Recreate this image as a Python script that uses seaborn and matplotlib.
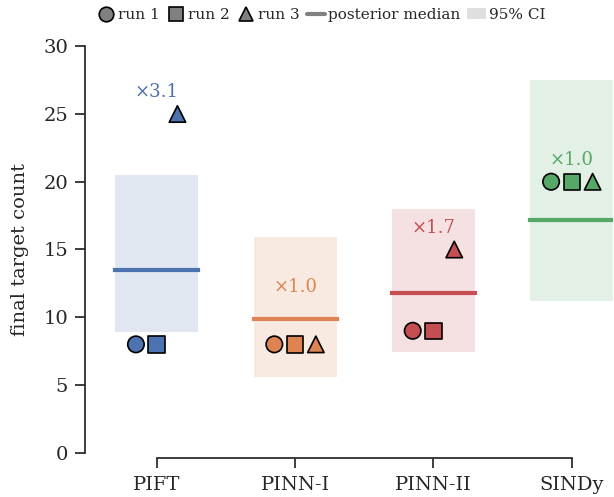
import numpy as np
import pandas as pd
import matplotlib
matplotlib.use("Agg")
import matplotlib.pyplot as plt
from matplotlib.lines import Line2D
from matplotlib.patches import Patch
import seaborn as sns

# Methods compared and final target counts per run
methods = ["PIFT", "PINN-I", "PINN-II", "SINDy"]
runs = ["run 1", "run 2", "run 3"]
run1 = [8, 8, 9, 20]
run2 = [8, 8, 9, 20]
run3 = [25, 8, 15, 20]

# Posterior summaries
post_median = [13.5, 9.9, 11.8, 17.2]
ci_low = [8.9, 5.6, 7.4, 11.2]
ci_high = [20.5, 15.9, 18.0, 27.5]

yticks = [0, 5, 10, 15, 20, 25, 30]

sns.set_theme(style="ticks")
plt.rcParams["font.family"] = ["DejaVu Serif"]
plt.rcParams["axes.edgecolor"] = ".15"
plt.rcParams["text.color"] = ".15"
plt.rcParams["xtick.color"] = ".15"
plt.rcParams["ytick.color"] = ".15"

deep = sns.color_palette("deep")
colors = {"PIFT": deep[0], "PINN-I": deep[1], "PINN-II": deep[3], "SINDy": deep[2]}
run_markers = {"run 1": "o", "run 2": "s", "run 3": "^"}
run_shift = {"run 1": -0.15, "run 2": 0.0, "run 3": 0.15}

rows = []
for i, m in enumerate(methods):
    for r, vals in zip(runs, [run1, run2, run3]):
        rows.append({"method": m, "run": r, "pos": i + run_shift[r], "count": vals[i]})
df = pd.DataFrame(rows)

fig = plt.figure(figsize=(6.14, 4.97), dpi=100)
ax = fig.add_axes([0.147, 0.089, 0.852, 0.818])

half = 0.3
for i, m in enumerate(methods):
    c = colors[m]
    ax.fill_between([i - half, i + half], ci_low[i], ci_high[i],
                    color=c, alpha=0.17, linewidth=0, zorder=1)
    ax.plot([i - half, i + half], [post_median[i], post_median[i]],
            color=c, lw=3, solid_capstyle="projecting", zorder=2)

sns.scatterplot(data=df, x="pos", y="count", hue="method", style="run",
                markers=run_markers, palette=colors, s=140,
                edgecolor="black", linewidth=1.2, legend=False,
                ax=ax, zorder=3)

# Spread between best and worst run, shown above each group
for i, m in enumerate(methods):
    vals = [run1[i], run2[i], run3[i]]
    ratio = max(vals) / min(vals)
    ytxt = max(max(vals) + 1.6, post_median[i] + 2.3)
    ax.text(i, ytxt, f"×{ratio:.1f}", color=colors[m], ha="center",
            va="center", fontsize=13)

ax.set_xlim(-0.48, 3.3)
ax.set_ylim(0, 30)
ax.set_xticks(range(len(methods)))
ax.set_xticklabels(methods)
ax.set_yticks(yticks)
ax.set_xlabel("")
ax.set_ylabel("final target count", fontsize=14, labelpad=10)
ax.tick_params(axis="both", labelsize=14, length=7, width=1.25, pad=5)
ax.tick_params(axis="x", pad=6)
sns.despine(ax=ax, offset=4, trim=True)

handles = [
    Line2D([], [], marker="o", ls="", mfc="grey", mec="black", ms=10.5, mew=1.2),
    Line2D([], [], marker="s", ls="", mfc="grey", mec="black", ms=10.5, mew=1.2),
    Line2D([], [], marker="^", ls="", mfc="grey", mec="black", ms=10.5, mew=1.2),
    Line2D([], [], color="grey", lw=3),
    Patch(facecolor="grey", alpha=0.25, edgecolor="none"),
]
labels = ["run 1", "run 2", "run 3", "posterior median", "95% CI"]
fig.legend(handles, labels, loc="center", bbox_to_anchor=(321 / 614, 1 - 15 / 497),
           ncol=5, frameon=False, fontsize=11, handlelength=1.2,
           handletextpad=0.2, columnspacing=0.45)

fig.savefig("out.png", dpi=100)
